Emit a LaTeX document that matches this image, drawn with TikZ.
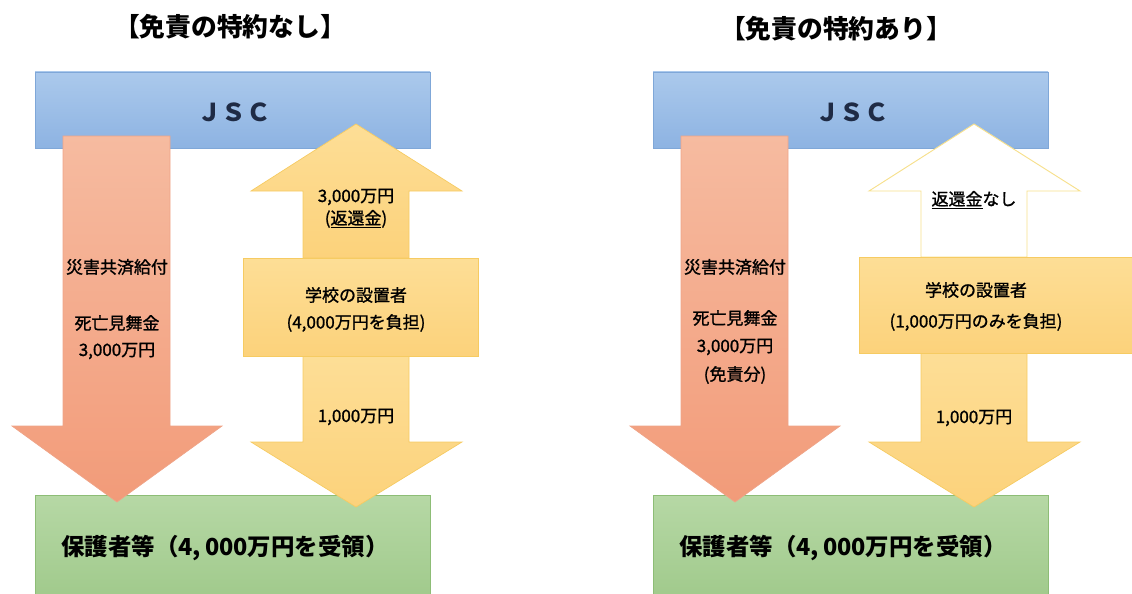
\documentclass[tikz,border=0pt]{standalone}
\usepackage{fontspec}
\newfontfamily\jp{Noto Sans CJK JP}
\newfontfamily\jpm{Noto Sans CJK JP}[FakeBold=1.2]
\usetikzlibrary{positioning}

\definecolor{jscTop}{HTML}{ABC9EC}
\definecolor{jscBot}{HTML}{8DB3E2}
\definecolor{jscEdge}{HTML}{7FA7D8}
\definecolor{jscText}{HTML}{1F2B45}
\definecolor{payTop}{HTML}{F6BBA0}
\definecolor{payBot}{HTML}{F29B79}
\definecolor{payEdge}{HTML}{EFA488}
\definecolor{schTop}{HTML}{FDDE96}
\definecolor{schBot}{HTML}{FCD27B}
\definecolor{schEdge}{HTML}{F6CB62}
\definecolor{nullEdge}{HTML}{F7E08C}
\definecolor{grdTop}{HTML}{B6D8A5}
\definecolor{grdBot}{HTML}{9FC98A}
\definecolor{grdEdge}{HTML}{8DBD76}

\tikzset{
  jscbox/.style={draw=jscEdge, line width=0.6pt, top color=jscTop, bottom color=jscBot},
  guardbox/.style={draw=grdEdge, line width=0.6pt, top color=grdTop, bottom color=grdBot},
  payarrow/.style={draw=payEdge, line width=0.6pt, top color=payTop, bottom color=payBot},
  scharrow/.style={draw=schEdge, line width=0.6pt, top color=schTop, bottom color=schBot},
  nullarrow/.style={draw=nullEdge, line width=0.8pt, fill=white},
  ttl/.style={font=\jp\bfseries\fontsize{22}{26}\selectfont, inner sep=0pt},
  jsclbl/.style={font=\jp\bfseries\fontsize{21}{24}\selectfont, text=jscText, inner sep=0pt},
  grdlbl/.style={font=\jp\bfseries\fontsize{20}{24}\selectfont, inner sep=0pt},
  lbl/.style={font=\jpm\fontsize{14.5}{17}\selectfont, inner sep=0pt},
}

\begin{document}
\begin{tikzpicture}[x=0.03cm, y=-0.03cm]
\useasboundingbox (0,0) rectangle (1132,593);

% without exemption clause
\node[ttl] (titleA) at (230,27) {【免責の特約なし】};
\draw[guardbox] (35,495) rectangle (430,605);
\draw[jscbox] (35,72) rectangle (430,148);

% payment arrow
\draw[payarrow] (63,136) -- (170,136) -- (170,426) -- (222,426) -- (117,502)
  -- (12,426) -- (63,426) -- cycle;

% school arrows and box
\draw[scharrow] (303,258) -- (303,191) -- (251,191) -- (356,124) -- (462,191)
  -- (409,191) -- (409,258) -- cycle;
\draw[scharrow] (303,356) -- (409,356) -- (409,442) -- (462,442) -- (356,507)
  -- (251,442) -- (303,442) -- cycle;
\draw[scharrow] (243,258) rectangle (478,356);

\node[jsclbl] (jscA) at (234,112) {ＪＳＣ};
\node[lbl] (kyufuA) at (117,267) {災害共済給付};
\node[lbl] (mimaiA) at (117,323) {死亡見舞金};
\node[lbl] (sumA) at (117,351) {3,000万円};
\node[lbl] (backA) at (356,197) {3,000万円};
\node[lbl] (backnoteA) at (356,219) {(\underline{返還金})};
\node[lbl] (schoolA) at (356,295) {学校の設置者};
\node[lbl] (burdenA) at (356,323) {(4,000万円を負担)};
\node[lbl] (restA) at (356,417) {1,000万円};
\node[grdlbl] (guardA) at (225,548) {保護者等（4,\,000万円を受領）};

% with exemption clause
\begin{scope}[shift={(618,0)}]
\node[ttl] (titleB) at (218,29) {【免責の特約あり】};
\draw[guardbox] (35,495) rectangle (430,605);
\draw[jscbox] (35,72) rectangle (430,148);

\draw[payarrow] (63,136) -- (170,136) -- (170,426) -- (222,426) -- (117,502)
  -- (12,426) -- (63,426) -- cycle;

\draw[nullarrow] (303,257) -- (303,191) -- (251,191) -- (356,124) -- (462,191)
  -- (409,191) -- (409,257) -- cycle;
\draw[scharrow] (303,353) -- (409,353) -- (409,442) -- (462,442) -- (356,507)
  -- (251,442) -- (303,442) -- cycle;
\draw[scharrow] (241,257) rectangle (530,353);

\node[jsclbl] (jscB) at (234,112) {ＪＳＣ};
\node[lbl] (kyufuB) at (117,267) {災害共済給付};
\node[lbl] (mimaiB) at (117,318) {死亡見舞金};
\node[lbl] (sumB) at (117,347) {3,000万円};
\node[lbl] (exemptB) at (117,375) {(免責分)};
\node[lbl] (backB) at (356,200) {\underline{返還金}なし};
\node[lbl] (schoolB) at (358,290) {学校の設置者};
\node[lbl] (burdenB) at (358,322) {(1,000万円のみを負担)};
\node[lbl] (restB) at (356,418) {1,000万円};
\node[grdlbl] (guardB) at (225,548) {保護者等（4,\,000万円を受領）};
\end{scope}
\end{tikzpicture}
\end{document}
